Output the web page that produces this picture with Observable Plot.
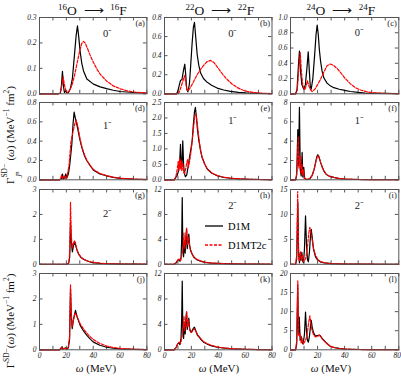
<!DOCTYPE html>
<html><head><meta charset="utf-8">
<script src="https://cdn.jsdelivr.net/npm/d3@7"></script>
<script src="https://cdn.jsdelivr.net/npm/@observablehq/plot@0.6"></script>
<style>
body{margin:0;background:#fff;}
#chart{position:relative;width:401px;height:377px;overflow:hidden;font-family:"Liberation Serif",serif;color:#111;background:#fff;}
.ttl{position:absolute;font-size:13.5px;line-height:15px;white-space:nowrap;transform:translateX(-50%);}
.ttl .s{font-size:9px;vertical-align:5px;}
.xl{position:absolute;font-size:11px;line-height:12px;white-space:nowrap;transform:translateX(-50%);}
.yl{position:absolute;font-size:11px;line-height:14px;white-space:nowrap;transform:translate(-50%,-50%) rotate(-90deg);}
.yl .s{font-size:7.5px;vertical-align:5px;}
.yl .st{display:inline-block;position:relative;width:17px;height:10px;}
.yl .st .u{position:absolute;left:0;top:-6px;font-size:7.5px;}
.yl .st .d{position:absolute;left:0;top:6px;font-size:7.5px;}
</style></head>
<body><div id="chart"></div>
<script>
// ---------- data ----------
const seriesNames = ["D1M", "D1MT2c"];
const columnTitles = [["16","O","16","F"],["22","O","22","F"],["24","O","24","F"]];
const panelTags = ["(a)","(b)","(c)","(d)","(e)","(f)","(g)","(h)","(i)","(j)","(k)","(l)"];
const jpLabels = ["0⁻","1⁻","2⁻"];
const xTicks = [0,20,40,60,80];
const xTickMarks = [0,10,20,30,40,50,60,70,80];

const yTicksA = [0,0.1,0.2,0.3];
const yTicksB = [0,0.2,0.4,0.6,0.8];
const yTicksC = [0,0.2,0.4,0.6,0.8,1.0];
const yTicksD = [0,0.2,0.4,0.6,0.8];
const yTicksE = [0,0.5,1.0,1.5,2.0,2.5];
const yTicksF = [0,2,4,6,8];
const yTicksG = [0,1,2,3];
const yTicksH = [0,4,8,12];
const yTicksI = [0,5,10,15];
const yTicksJ = [0,1,2,3];
const yTicksK = [0,4,8,12];
const yTicksL = [0,5,10,15,20];

// (a) 16O 0-
const o16_0_d1m = [[0,0],[14,0],[15.5,0.002],[16.3,0.03],[17.1,0.088],[17.8,0.03],[18.6,0.005],[19.5,0.012],[20.5,0.003],[21.5,0.005],[23,0.02],[24.5,0.06],[26,0.15],[27.3,0.23],[28.3,0.267],[29.3,0.22],[30.3,0.165],[31.5,0.12],[32.8,0.09],[35.3,0.058],[40.2,0.038],[45.2,0.027],[50,0.02],[55,0.014],[60,0.009],[70,0.005],[80,0.002]];
const o16_0_t2c = [[0,0],[14,0],[15.5,0.003],[16.5,0.03],[17.6,0.067],[18.4,0.04],[19.5,0.015],[20.5,0.005],[22,0.01],[24,0.03],[26,0.07],[28,0.12],[30,0.17],[31.5,0.198],[32.8,0.206],[34,0.2],[36,0.175],[38,0.148],[40.2,0.123],[43,0.095],[45.2,0.077],[50,0.05],[55,0.031],[60,0.02],[65,0.012],[70,0.007],[80,0.003]];
// (b) 22O 0-
const o22_0_d1m = [[0,0],[9,0],[10,0.03],[11,0.09],[11.9,0.14],[13,0.15],[14.2,0.25],[15.1,0.31],[15.8,0.2],[16.5,0.05],[17.4,0.02],[18.5,0.1],[19.5,0.3],[20.5,0.52],[21.5,0.7],[22.3,0.75],[23.2,0.6],[24.3,0.415],[25.5,0.3],[26.8,0.22],[29,0.16],[31.8,0.12],[35,0.09],[39.2,0.06],[44,0.04],[49,0.025],[55,0.015],[60,0.01],[70,0.004],[80,0.002]];
const o22_0_t2c = [[0,0],[10,0],[11,0.02],[12.5,0.08],[14,0.15],[14.9,0.19],[15.8,0.12],[16.6,0.05],[17.4,0.03],[19,0.06],[21,0.11],[24.3,0.2],[27,0.26],[29.3,0.3],[31.5,0.335],[34.2,0.35],[37,0.325],[40.4,0.26],[43.5,0.2],[46.7,0.15],[50,0.105],[54.1,0.066],[58,0.04],[61.5,0.025],[66,0.014],[70,0.008],[80,0.002]];
// (c) 24O 0-
const o24_0_d1m = [[0,0],[3.7,0],[4.8,0.05],[5.8,0.35],[6.6,0.56],[7.4,0.3],[8.4,0.12],[9.8,0.06],[11,0.12],[12.2,0.35],[13.1,0.55],[13.9,0.3],[14.6,0.1],[15.3,0.06],[16.5,0.2],[17.8,0.5],[18.9,0.78],[19.7,0.9],[20.5,0.78],[21.3,0.58],[22.2,0.43],[23.3,0.3],[24.6,0.21],[27,0.14],[29,0.11],[32,0.08],[36,0.06],[40,0.045],[44.3,0.03],[50,0.018],[55,0.01],[65,0.005],[80,0.002]];
const o24_0_t2c = [[0,0],[4,0],[5,0.05],[6.2,0.35],[7.2,0.54],[8,0.3],[9,0.12],[10.5,0.05],[11.5,0.1],[12.5,0.17],[13.3,0.12],[14.5,0.06],[16,0.03],[18,0.06],[20,0.12],[22.2,0.19],[24.5,0.28],[27.1,0.37],[29.5,0.39],[32,0.37],[34.5,0.33],[36.9,0.28],[40,0.21],[44.3,0.13],[48,0.08],[51.7,0.05],[56,0.028],[60,0.015],[70,0.005],[80,0.002]];
// (d) 16O 1-
const o16_1_d1m = [[0,0],[15,0],[16.3,0.01],[17.1,0.06],[17.8,0.01],[18.8,0.02],[19.6,0.06],[20.4,0.02],[21.5,0.06],[22.5,0.15],[24.1,0.37],[25,0.58],[25.8,0.70],[26.8,0.63],[28.3,0.54],[30,0.42],[31.6,0.33],[33.5,0.25],[35.3,0.197],[38,0.14],[40.2,0.10],[45,0.06],[50.2,0.04],[55,0.025],[60,0.015],[70,0.006],[80,0.003]];
const o16_1_t2c = [[0,0],[15,0],[15.8,0.02],[16.5,0.05],[17.2,0.01],[18,0.03],[18.8,0.04],[19.5,0.01],[20.5,0.03],[22,0.15],[23.5,0.40],[25,0.5],[26.3,0.58],[27.3,0.62],[28.5,0.56],[30,0.44],[31.6,0.34],[33.5,0.26],[35.3,0.2],[38,0.145],[40.2,0.105],[45,0.065],[50.2,0.042],[55,0.027],[60,0.017],[70,0.007],[80,0.003]];
// (e) 22O 1-
const o22_1_d1m = [[0,0],[7,0],[8,0.05],[9.5,0.15],[10.5,0.3],[11.3,0.6],[11.9,1.15],[12.4,0.4],[13,0.5],[13.6,1.26],[14.2,0.5],[14.8,0.2],[15.6,0.1],[16.5,0.15],[17.5,0.4],[18.5,0.7],[19.5,0.95],[20.6,1.26],[21.5,1.8],[22.3,2.2],[23,2.34],[23.8,2.0],[24.6,1.6],[25.6,1.26],[26.8,0.95],[28,0.72],[30,0.5],[31.8,0.35],[35,0.22],[39.2,0.13],[44,0.08],[49,0.05],[55,0.03],[60,0.02],[70,0.01],[80,0.005]];
const o22_1_t2c = [[0,0],[7.5,0],[8.5,0.1],[9.5,0.35],[10.2,0.6],[10.7,0.3],[11.3,0.7],[11.8,0.35],[12.3,0.65],[12.8,0.3],[13.5,0.55],[14.2,0.25],[15,0.2],[15.8,0.35],[16.5,0.55],[17.2,0.65],[17.8,0.4],[18.5,0.55],[19.5,0.85],[20.5,1.2],[21.5,1.65],[22.5,2.05],[23.5,2.13],[24.3,1.85],[25.3,1.45],[26.5,1.05],[28,0.72],[30,0.5],[31.8,0.36],[35,0.23],[39.2,0.14],[44,0.085],[49,0.055],[55,0.035],[60,0.022],[70,0.01],[80,0.005]];
// (f) 24O 1-
const o24_1_d1m = [[0,0],[3.7,0],[4.6,0.5],[5.4,5.2],[5.9,1.5],[6.6,7.5],[7.2,1.0],[7.9,0.4],[8.6,2.83],[9.1,0.3],[9.8,1.3],[10.4,0.2],[11.5,0.05],[13,0.05],[14.5,0.15],[16,0.45],[17.5,1.1],[18.7,1.9],[19.5,2.4],[20.2,2.6],[21,2.4],[22.2,1.8],[23.5,1.3],[24.6,0.93],[26.5,0.55],[29,0.35],[32,0.25],[36,0.13],[40,0.08],[50,0.03],[60,0.015],[80,0.005]];
const o24_1_t2c = [[0,0],[4,0],[4.8,1.0],[5.7,4.5],[6.2,1.2],[6.8,1.8],[7.3,2.5],[7.8,0.6],[8.5,1.6],[9,0.5],[9.6,1.0],[10.3,0.2],[11.5,0.05],[13,0.05],[14.5,0.15],[16,0.45],[17.5,1.1],[18.8,1.9],[19.7,2.35],[20.4,2.5],[21.2,2.3],[22.4,1.75],[23.6,1.25],[24.8,0.9],[26.5,0.55],[29,0.35],[32,0.25],[36,0.13],[40,0.08],[50,0.03],[60,0.015],[80,0.005]];
// (g) 16O 2-
const o16_2_d1m = [[0,0],[20,0],[21,0.02],[21.8,0.05],[22.5,0.3],[23.1,1.68],[23.7,0.9],[24.5,0.5],[25.3,0.75],[26.4,0.88],[27.5,0.65],[29.1,0.41],[31,0.27],[33,0.19],[35.3,0.14],[38,0.09],[40,0.07],[45,0.04],[50,0.025],[60,0.01],[70,0.005],[80,0.002]];
const o16_2_t2c = [[0,0],[20.3,0],[21.2,0.03],[22,0.1],[22.6,0.6],[23.1,2.48],[23.6,1.3],[24.3,0.65],[25,0.8],[26,0.95],[26.8,0.85],[28,0.55],[29.1,0.42],[31,0.28],[33,0.2],[35.3,0.14],[38,0.095],[40,0.075],[45,0.045],[50,0.028],[60,0.012],[70,0.005],[80,0.002]];
// (h) 22O 2-
const o22_2_d1m = [[0,0],[7,0],[8.5,0.2],[9.7,0.6],[10.7,0.8],[11.5,0.5],[12.3,1.0],[12.8,4],[13.2,10.7],[13.6,3],[14.2,1.2],[14.8,3.5],[15.4,1.8],[16,4.5],[16.4,5.65],[16.9,2.5],[17.5,3.5],[18.1,4.85],[18.7,3],[19.5,2.2],[20.6,1.6],[22,1.1],[24,0.75],[26.8,0.5],[30,0.32],[35,0.2],[39,0.15],[45,0.1],[50,0.07],[60,0.04],[70,0.02],[80,0.01]];
const o22_2_t2c = [[0,0],[7.5,0],[8.8,0.3],[10,0.7],[11,0.9],[12,0.6],[13,1.5],[13.8,2.5],[14.5,5.0],[15.1,2.5],[15.8,4],[16.5,5.8],[17.1,3.2],[17.6,4.4],[18.2,3.8],[19,2.6],[20,1.9],[21,1.45],[22.5,1.05],[24.5,0.75],[27,0.52],[30,0.34],[35,0.21],[39,0.16],[45,0.1],[50,0.07],[60,0.04],[70,0.02],[80,0.01]];
// (i) 24O 2-
const o24_2_d1m = [[0,0],[3.7,0],[4.6,1],[5.4,12.4],[6,2],[6.6,0.3],[7.3,2.4],[7.8,0.8],[8.4,2.4],[9,0.6],[9.6,0.3],[10.3,3],[11.1,9.7],[11.8,4],[12.5,1.0],[13.2,0.5],[14,2.5],[14.7,5.5],[15.3,7.0],[16,5.5],[17,3],[18.5,1.5],[20,0.9],[22,0.5],[25,0.3],[30,0.12],[40,0.04],[50,0.02],[80,0.005]];
const o24_2_t2c = [[0,0],[3.8,0],[4.6,2],[5.3,14.6],[5.9,3],[6.5,0.6],[7.5,2.5],[8.1,0.8],[8.8,1.8],[9.6,0.5],[10.5,0.8],[11.3,1.2],[12,2.5],[12.7,4],[13.5,6.2],[14.3,7.4],[15,6.5],[16,5],[17,3.2],[18.5,1.8],[20,1.0],[22,0.55],[25,0.32],[30,0.13],[40,0.045],[50,0.02],[80,0.005]];
// (j) 16O total
const o16_t_d1m = [[0,0],[15,0],[16,0.05],[16.8,0.12],[17.5,0.03],[18.5,0.05],[19.6,0.08],[20.4,0.02],[21.5,0.08],[22.4,0.4],[23.1,2.4],[23.7,1.3],[24.4,0.83],[25.3,1.2],[26.8,1.55],[28,1.3],[30.3,0.96],[33,0.72],[35.3,0.57],[38,0.41],[40.2,0.3],[45,0.18],[50,0.1],[55,0.06],[60,0.035],[70,0.015],[80,0.006]];
const o16_t_t2c = [[0,0],[15,0],[15.8,0.06],[16.5,0.1],[17.2,0.02],[18.2,0.05],[19,0.06],[20,0.02],[21.3,0.07],[22.4,0.5],[23.1,2.55],[23.6,1.5],[24.3,0.9],[25.2,1.15],[26.4,1.45],[27.6,1.35],[30.3,1.02],[33,0.8],[35.3,0.65],[38,0.5],[40.2,0.4],[45,0.25],[50,0.15],[55,0.09],[60,0.055],[70,0.022],[80,0.009]];
// (k) 22O total
const o22_t_d1m = [[0,0],[7,0],[8.5,0.3],[9.7,0.9],[10.7,1.1],[11.5,0.8],[12.3,1.8],[12.8,5],[13.2,10.8],[13.6,3.5],[14.2,1.8],[14.8,4],[15.4,2.5],[16,5],[16.4,5.9],[16.9,3.2],[17.5,4],[18.1,5.0],[18.7,3.3],[19.5,2.8],[20.6,3.0],[21.5,3.4],[22.3,3.55],[23.3,3.0],[24.5,2.3],[26.8,1.7],[29,1.2],[31.8,0.9],[35,0.62],[39.2,0.4],[45,0.25],[50,0.15],[60,0.07],[70,0.03],[80,0.015]];
const o22_t_t2c = [[0,0],[7.5,0],[8.8,0.4],[10,1.0],[11,1.2],[12,1.0],[13,2],[13.8,3.2],[14.5,5.3],[15.1,3.0],[15.8,4.5],[16.5,6.0],[17.1,3.6],[17.6,4.7],[18.2,4.0],[19,3.0],[20,2.7],[21,3.0],[22,3.3],[23,3.1],[24.5,2.4],[26.8,1.8],[29,1.3],[31.8,0.95],[35,0.68],[39.2,0.45],[45,0.28],[50,0.18],[60,0.08],[70,0.035],[80,0.015]];
// (l) 24O total
const o24_t_d1m = [[0,0],[3.7,0],[4.6,1.5],[5.3,17],[5.9,4],[6.5,8.6],[7.1,2.5],[7.8,3.5],[8.5,2],[9.3,1.5],[10.3,4],[11.1,9.9],[11.8,5],[12.5,2.5],[13.2,2.0],[14,3.5],[14.7,6],[15.3,7.7],[16,6],[17,4.5],[18.3,3.6],[19.7,3.7],[21,3.8],[22,3.7],[23.5,2.9],[26,2.0],[29,1.0],[32,0.6],[36,0.35],[40,0.2],[50,0.08],[60,0.03],[80,0.01]];
const o24_t_t2c = [[0,0],[3.8,0],[4.6,2.5],[5.4,18.1],[6,4],[6.6,3.5],[7.2,4.2],[7.9,1.8],[8.6,3],[9.4,1.5],[10.3,2],[11.1,2.5],[12,3.5],[12.8,5.5],[13.6,7.5],[14.3,8.9],[15,7],[16,5],[17.2,3.8],[18.5,3.4],[20,3.5],[21.2,3.9],[22.2,3.6],[23.6,2.8],[26,1.9],[29,1.0],[32,0.6],[36,0.35],[40,0.2],[50,0.08],[60,0.03],[80,0.01]];

// ---------- layout ----------
const colLeft = [39.3, 164, 290];
const colWidth = [107.4, 107.5, 108.3];
const rowTop = [16.7, 101.7, 188.7, 273];
const rowHeight = [76.3, 77.3, 74.8, 76.3];
const f1 = d3.format(".1f"), f0 = d3.format("d");

const panels = [
  {d1m:o16_0_d1m, t2c:o16_0_t2c, yTicks:yTicksA, fmt:f1, jp:0, jpY:16.3},
  {d1m:o22_0_d1m, t2c:o22_0_t2c, yTicks:yTicksB, fmt:f1, jp:0, jpY:16.3},
  {d1m:o24_0_d1m, t2c:o24_0_t2c, yTicks:yTicksC, fmt:f1, jp:0, jpY:15.5},
  {d1m:o16_1_d1m, t2c:o16_1_t2c, yTicks:yTicksD, fmt:f1, jp:1, jpY:23},
  {d1m:o22_1_d1m, t2c:o22_1_t2c, yTicks:yTicksE, fmt:f1, jp:1, jpY:18.3},
  {d1m:o24_1_d1m, t2c:o24_1_t2c, yTicks:yTicksF, fmt:f0, jp:1, jpY:18.3},
  {d1m:o16_2_d1m, t2c:o16_2_t2c, yTicks:yTicksG, fmt:f0, jp:2, jpY:24.3},
  {d1m:o22_2_d1m, t2c:o22_2_t2c, yTicks:yTicksH, fmt:f0, jp:2, jpY:16.3},
  {d1m:o24_2_d1m, t2c:o24_2_t2c, yTicks:yTicksI, fmt:f0, jp:2, jpY:16.3},
  {d1m:o16_t_d1m, t2c:o16_t_t2c, yTicks:yTicksJ, fmt:f0, jp:null},
  {d1m:o22_t_d1m, t2c:o22_t_t2c, yTicks:yTicksK, fmt:f0, jp:null},
  {d1m:o24_t_d1m, t2c:o24_t_t2c, yTicks:yTicksL, fmt:f0, jp:null}
];

const chart = document.getElementById("chart");
const gray = "#555";
const tk = 3.5;

panels.forEach((p, i) => {
  const col = i % 3, row = Math.floor(i / 3);
  const L = colLeft[col], W = colWidth[col], T = rowTop[row], H = rowHeight[row];
  const bottom = row === 3;
  const ml = 30, mr = 6, mt = 4, mb = bottom ? 18 : 4;
  const ymax = p.yTicks[p.yTicks.length - 1];
  const marks = [
    Plot.tickY(p.yTicks, {y: d => d, insetRight: W - tk, stroke: gray}),
    Plot.tickY(p.yTicks, {y: d => d, insetLeft: W - tk, stroke: gray}),
    Plot.tickX(xTickMarks, {x: d => d, insetTop: H - tk, stroke: gray}),
    Plot.tickX(xTickMarks, {x: d => d, insetBottom: H - tk, stroke: gray}),
    Plot.axisY(p.yTicks, {tickSize: 0, tickPadding: 3, tickFormat: p.fmt, label: null, fontStyle: "italic"}),
    Plot.line(p.d1m, {x: d => d[0], y: d => d[1], stroke: "#000", strokeWidth: 1.2}),
    Plot.line(p.t2c, {x: d => d[0], y: d => d[1], stroke: "#f00", strokeWidth: 1.2, strokeDasharray: "3,1.5"}),
    Plot.frame({stroke: gray, strokeWidth: 1}),
    Plot.text([panelTags[i]], {text: d => d, frameAnchor: "top-right", textAnchor: "end", lineAnchor: "top", dx: -2, dy: 2.5, fontSize: 8.5})
  ];
  if (p.jp !== null) marks.push(Plot.text([jpLabels[p.jp]], {text: d => d, frameAnchor: "top-left", textAnchor: "middle", lineAnchor: "middle", dx: W * 0.635, dy: p.jpY, fontSize: 10.5}));
  if (bottom) {
    if (col === 2) {
      marks.push(Plot.axisX(xTicks.slice(0, -1), {tickSize: 0, tickPadding: 3, label: null, fontStyle: "italic"}));
      marks.push(Plot.axisX(xTicks.slice(-1), {tickSize: 0, tickPadding: 3, label: null, fontStyle: "italic", textAnchor: "end", dx: 2.3}));
    } else {
      marks.push(Plot.axisX(xTicks, {tickSize: 0, tickPadding: 3, label: null, fontStyle: "italic"}));
    }
  }
  const svg = Plot.plot({
    width: W + ml + mr, height: H + mt + mb,
    marginLeft: ml, marginRight: mr, marginTop: mt, marginBottom: mb,
    x: bottom ? {domain: [0, 80]} : {domain: [0, 80], axis: null},
    y: {domain: [0, ymax]},
    style: {fontFamily: "'Liberation Serif', serif", fontSize: "7.5px", background: "none", color: "#222", overflow: "visible"},
    marks
  });
  svg.style.position = "absolute";
  svg.style.left = (L - ml) + "px";
  svg.style.top = (T - mt) + "px";
  chart.appendChild(svg);
});

// column titles
const titleX = [92.5, 220, 341];
columnTitles.forEach((t, c) => {
  const d = document.createElement("div");
  d.className = "ttl";
  d.style.left = titleX[c] + "px";
  d.style.top = "0px";
  d.innerHTML = `<span class="s">${t[0]}</span>${t[1]}&nbsp;&nbsp;⟶&nbsp;&nbsp;<span class="s">${t[2]}</span>${t[3]}`;
  chart.appendChild(d);
});
// x labels
const xLabX = [96, 219, 331];
xLabX.forEach(x => {
  const d = document.createElement("div");
  d.className = "xl";
  d.style.left = x + "px";
  d.style.top = "362px";
  d.innerHTML = `<i>ω</i> (MeV)`;
  chart.appendChild(d);
});
// y labels
const y1 = document.createElement("div");
y1.className = "yl"; y1.style.left = "8px"; y1.style.top = "135px";
y1.innerHTML = `Γ<span class="st"><span class="u">SD−</span><span class="d"><i>J</i><sup style="font-size:5.5px">π</sup></span></span>(<i>ω</i>) (MeV<span class="s">−1</span> fm<span class="s">2</span>)`;
chart.appendChild(y1);
const y2 = document.createElement("div");
y2.className = "yl"; y2.style.left = "8px"; y2.style.top = "321px";
y2.innerHTML = `Γ<span class="s">SD−</span>(<i>ω</i>) (MeV<span class="s">−1</span> fm<span class="s">2</span>)`;
chart.appendChild(y2);

// legend (in panel h)
const ns = "http://www.w3.org/2000/svg";
const lg = document.createElementNS(ns, "svg");
lg.setAttribute("width", 75); lg.setAttribute("height", 42);
lg.style.position = "absolute"; lg.style.left = "200px"; lg.style.top = "215px";
const lstyles = [{stroke: "#000", dash: null, y: 11}, {stroke: "#f00", dash: "3,1.5", y: 30}];
seriesNames.forEach((name, k) => {
  const s = lstyles[k];
  const ln = document.createElementNS(ns, "line");
  ln.setAttribute("x1", 5); ln.setAttribute("x2", 23); ln.setAttribute("y1", s.y); ln.setAttribute("y2", s.y);
  ln.setAttribute("stroke", s.stroke); ln.setAttribute("stroke-width", 1.3);
  if (s.dash) ln.setAttribute("stroke-dasharray", s.dash);
  lg.appendChild(ln);
  const tx = document.createElementNS(ns, "text");
  tx.setAttribute("x", 28); tx.setAttribute("y", s.y + 3.5);
  tx.setAttribute("font-size", 10.5); tx.setAttribute("font-family", "Liberation Serif, serif");
  tx.textContent = name;
  lg.appendChild(tx);
});
chart.appendChild(lg);
</script></body></html>
